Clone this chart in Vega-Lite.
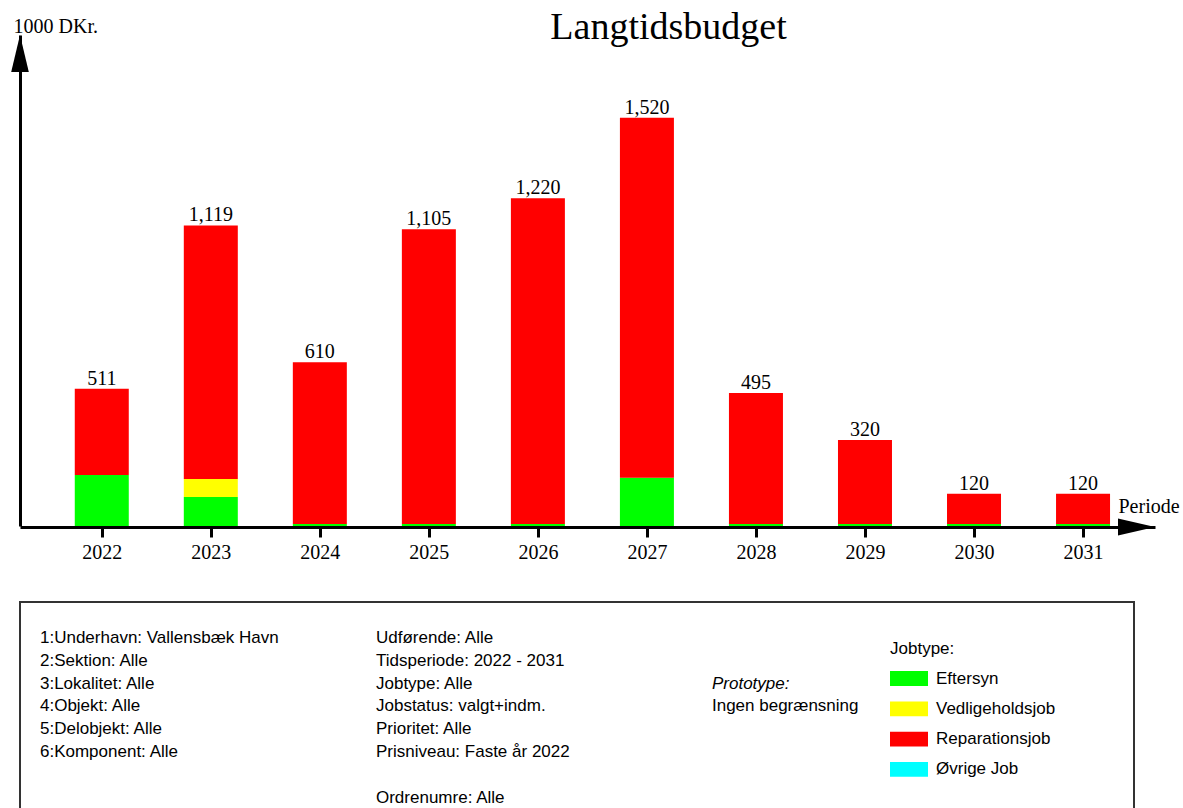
{
  "$schema": "https://vega.github.io/schema/vega-lite/v6.json",
  "padding": {"left": 11, "top": 9, "right": 0, "bottom": 0},
  "config": {"view": {"stroke": null}, "font": "Liberation Sans"},
  "datasets": {
    "budget": [
      {"year": 2022, "jobtype": "Eftersyn", "k": 1, "v": 190},
      {"year": 2022, "jobtype": "Reparationsjob", "k": 3, "v": 321},
      {"year": 2023, "jobtype": "Eftersyn", "k": 1, "v": 108},
      {"year": 2023, "jobtype": "Vedligeholdsjob", "k": 2, "v": 67},
      {"year": 2023, "jobtype": "Reparationsjob", "k": 3, "v": 944},
      {"year": 2024, "jobtype": "Eftersyn", "k": 1, "v": 7},
      {"year": 2024, "jobtype": "Reparationsjob", "k": 3, "v": 603},
      {"year": 2025, "jobtype": "Eftersyn", "k": 1, "v": 7},
      {"year": 2025, "jobtype": "Reparationsjob", "k": 3, "v": 1098},
      {"year": 2026, "jobtype": "Eftersyn", "k": 1, "v": 7},
      {"year": 2026, "jobtype": "Reparationsjob", "k": 3, "v": 1213},
      {"year": 2027, "jobtype": "Eftersyn", "k": 1, "v": 180},
      {"year": 2027, "jobtype": "Reparationsjob", "k": 3, "v": 1340},
      {"year": 2028, "jobtype": "Eftersyn", "k": 1, "v": 7},
      {"year": 2028, "jobtype": "Reparationsjob", "k": 3, "v": 488},
      {"year": 2029, "jobtype": "Eftersyn", "k": 1, "v": 7},
      {"year": 2029, "jobtype": "Reparationsjob", "k": 3, "v": 313},
      {"year": 2030, "jobtype": "Eftersyn", "k": 1, "v": 7},
      {"year": 2030, "jobtype": "Reparationsjob", "k": 3, "v": 113},
      {"year": 2031, "jobtype": "Eftersyn", "k": 1, "v": 7},
      {"year": 2031, "jobtype": "Reparationsjob", "k": 3, "v": 113}
    ],
    "info": [
      {"c": 1, "line": 1, "t": "1:Underhavn: Vallensbæk Havn"},
      {"c": 1, "line": 2, "t": "2:Sektion: Alle"},
      {"c": 1, "line": 3, "t": "3:Lokalitet: Alle"},
      {"c": 1, "line": 4, "t": "4:Objekt: Alle"},
      {"c": 1, "line": 5, "t": "5:Delobjekt: Alle"},
      {"c": 1, "line": 6, "t": "6:Komponent: Alle"},
      {"c": 2, "line": 1, "t": "Udførende: Alle"},
      {"c": 2, "line": 2, "t": "Tidsperiode: 2022 - 2031"},
      {"c": 2, "line": 3, "t": "Jobtype: Alle"},
      {"c": 2, "line": 4, "t": "Jobstatus: valgt+indm."},
      {"c": 2, "line": 5, "t": "Prioritet: Alle"},
      {"c": 2, "line": 6, "t": "Prisniveau: Faste år 2022"},
      {"c": 2, "line": 8, "t": "Ordrenumre: Alle"},
      {"c": 3, "line": 3, "t": "Prototype:"},
      {"c": 3, "line": 4, "t": "Ingen begrænsning"}
    ]
  },
  "spacing": 76,
  "bounds": "flush",
  "vconcat": [
    {
      "width": 1135,
      "height": 491,
      "view": {"stroke": null},
      "title": {
        "text": "Langtidsbudget",
        "font": "Liberation Serif",
        "fontSize": 38,
        "fontWeight": "normal",
        "color": "black",
        "anchor": "middle",
        "frame": "group",
        "dx": 81,
        "baseline": "alphabetic",
        "offset": -61
      },
      "layer": [
        {
          "data": {"name": "budget"},
          "mark": {"type": "bar", "width": 54},
          "encoding": {
            "x": {
              "field": "year", "type": "quantitative",
              "scale": {"domain": [2021.25, 2031.66], "nice": false, "zero": false, "padding": 0},
              "axis": {
                "title": "Periode", "titleX": 1098, "titleY": -15, "titleAlign": "left", "titleBaseline": "alphabetic",
                "titleFont": "Liberation Serif", "titleFontSize": 20, "titleFontWeight": "normal", "titleColor": "black",
                "values": [2022, 2023, 2024, 2025, 2026, 2027, 2028, 2029, 2030, 2031], "format": "d",
                "labelFont": "Liberation Serif", "labelFontSize": 20, "labelColor": "black", "labelPadding": 5, "labelFlush": false,
                "tickColor": "black", "tickWidth": 3, "tickSize": 10, "domainColor": "black", "domainWidth": 3, "grid": false,
                "offset": 1
              }
            },
            "y": {
              "field": "v", "type": "quantitative", "stack": "zero",
              "scale": {"domain": [0, 1828], "nice": false, "padding": 0},
              "axis": {
                "title": "1000 DKr.", "titleAngle": 0, "titleX": -7, "titleY": -3, "titleAlign": "left", "titleBaseline": "alphabetic",
                "titleFont": "Liberation Serif", "titleFontSize": 20, "titleFontWeight": "normal", "titleColor": "black",
                "labels": false, "ticks": false, "grid": false, "domainColor": "black", "domainWidth": 3
              }
            },
            "color": {
              "field": "jobtype", "type": "nominal",
              "scale": {"domain": ["Eftersyn", "Vedligeholdsjob", "Reparationsjob", "Øvrige Job"], "range": ["#00ff00", "#ffff00", "#ff0000", "#00ffff"]},
              "legend": {
                "orient": "none", "legendX": 870, "legendY": 606, "direction": "vertical",
                "title": "Jobtype:", "titleFont": "Liberation Sans", "titleFontSize": 17, "titleFontWeight": "normal", "titleColor": "black", "titlePadding": 1.5,
                "labelFont": "Liberation Sans", "labelFontSize": 17, "labelColor": "black", "labelOffset": 8,
                "symbolType": "M-1,-0.39H1V0.39H-1Z", "symbolSize": 1444, "symbolStrokeWidth": 0, "symbolOpacity": 1, "rowPadding": 3.3
              }
            },
            "order": {"field": "k", "type": "quantitative"}
          }
        },
        {
          "data": {"name": "budget"},
          "transform": [{"aggregate": [{"op": "sum", "field": "v", "as": "total"}], "groupby": ["year"]}],
          "mark": {"type": "text", "font": "Liberation Serif", "fontSize": 20, "color": "black", "baseline": "alphabetic", "dy": -4},
          "encoding": {
            "x": {"field": "year", "type": "quantitative", "title": "Periode"},
            "y": {"field": "total", "type": "quantitative", "title": "1000 DKr."},
            "text": {"field": "total", "type": "quantitative", "format": ","}
          }
        },
        {
          "data": {"values": [{}]},
          "mark": {"type": "point", "shape": "M0,0L0.476,2L-0.476,2Z", "size": 1369, "filled": true, "color": "black", "opacity": 1, "strokeWidth": 0},
          "encoding": {
            "x": {"datum": 2021.25, "type": "quantitative", "title": "Periode"},
            "y": {"datum": 1828, "type": "quantitative", "title": "1000 DKr."}
          }
        },
        {
          "data": {"values": [{}]},
          "mark": {"type": "point", "shape": "M0,0.054L-2,-0.406L-2,0.514Z", "size": 1369, "filled": true, "color": "black", "opacity": 1, "strokeWidth": 0},
          "encoding": {
            "x": {"datum": 2031.66, "type": "quantitative", "title": "Periode"},
            "y": {"datum": 0, "type": "quantitative", "title": "1000 DKr."}
          }
        }
      ]
    },
    {
      "width": 1114,
      "height": 210,
      "view": {"stroke": "#333333", "strokeWidth": 2},
      "data": {"name": "info"},
      "encoding": {
        "x": {"field": "c", "type": "quantitative", "scale": {"domain": [0.9405, 4.256], "nice": false, "zero": false}, "axis": null},
        "y": {"field": "line", "type": "quantitative", "scale": {"domain": [-0.579, 8.632], "reverse": true, "nice": false, "zero": false}, "axis": null},
        "text": {"field": "t", "type": "nominal"}
      },
      "layer": [
        {
          "transform": [{"filter": "datum.t !== 'Prototype:'"}],
          "mark": {"type": "text", "align": "left", "baseline": "middle", "font": "Liberation Sans", "fontSize": 17, "color": "black"}
        },
        {
          "transform": [{"filter": "datum.t === 'Prototype:'"}],
          "mark": {"type": "text", "align": "left", "baseline": "middle", "font": "Liberation Sans", "fontSize": 17, "fontStyle": "italic", "color": "black"}
        }
      ]
    }
  ]
}
